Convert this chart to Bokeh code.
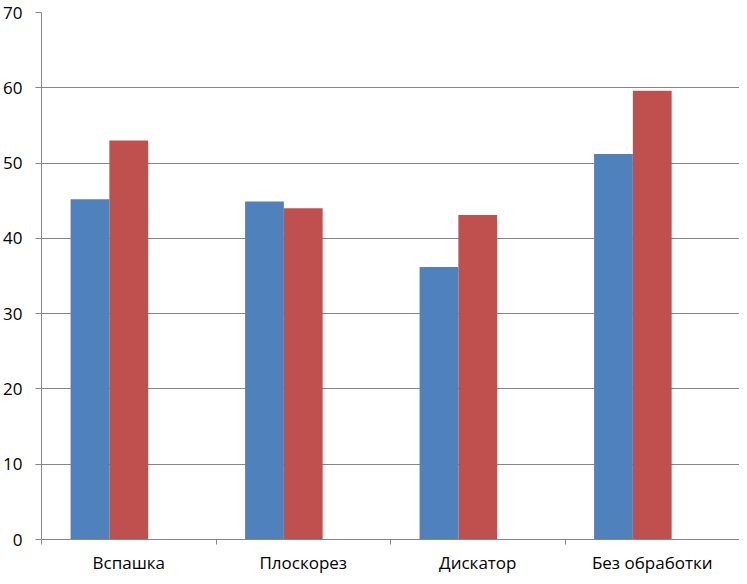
from bokeh.plotting import figure
from bokeh.models import ColumnDataSource, Range1d, FixedTicker
from bokeh.embed import file_html
from bokeh.resources import INLINE

categories = ["Вспашка", "Плоскорез", "Дискатор", "Без обработки"]
series1 = [45.2, 44.9, 36.2, 51.2]
series2 = [53.0, 44.0, 43.1, 59.6]
y_ticks = [0, 10, 20, 30, 40, 50, 60, 70]

colors = ["#4F81BD", "#C0504D"]
n_slots = 3          # Excel group has three slots (third series empty)
gap = 1.5            # Excel gap width 150%
bw = 1.0 / (n_slots + gap)

FONT = "Open Sans"
GRAY = "#868686"

p = figure(width=739, height=576, output_backend="svg", toolbar_location=None,
           x_range=Range1d(0, len(categories)), y_range=Range1d(0, 70),
           min_border_left=40, min_border_right=0, min_border_top=12,
           min_border_bottom=31)
p.outline_line_color = None
p.background_fill_color = "white"
p.border_fill_color = "white"

centers = [i + 0.5 for i in range(len(categories))]
for k, (vals, col) in enumerate(zip([series1, series2], colors)):
    xs = [c + (k - (n_slots - 1) / 2) * bw for c in centers]
    src = ColumnDataSource(dict(x=xs, top=vals))
    p.vbar(x="x", top="top", bottom=0, width=bw, source=src,
           fill_color=col, line_color=None)

# y axis
p.yaxis.ticker = FixedTicker(ticks=y_ticks)
p.yaxis.axis_line_color = GRAY
p.yaxis.major_tick_line_color = GRAY
p.yaxis.major_tick_in = 0
p.yaxis.major_tick_out = 6
p.yaxis.minor_tick_line_color = None
p.yaxis.major_label_standoff = 13
p.yaxis.major_label_text_font = FONT
p.yaxis.major_label_text_font_size = "17px"
p.yaxis.major_label_text_color = "black"

p.ygrid.ticker = FixedTicker(ticks=y_ticks)
p.ygrid.grid_line_color = GRAY
p.ygrid.grid_line_width = 1
p.xgrid.grid_line_color = None

# x axis: labels at category centres, ticks at boundaries
p.xaxis.ticker = FixedTicker(ticks=centers,
                             minor_ticks=list(range(len(categories) + 1)))
p.xaxis.major_label_overrides = {c: name for c, name in zip(centers, categories)}
p.xaxis.axis_line_color = GRAY
p.xaxis.major_tick_line_color = None
p.xaxis.major_tick_in = 0
p.xaxis.major_tick_out = 0
p.xaxis.minor_tick_line_color = GRAY
p.xaxis.minor_tick_in = 0
p.xaxis.minor_tick_out = 5
p.xaxis.major_label_standoff = 6
p.xaxis.major_label_text_font = FONT
p.xaxis.major_label_text_font_size = "17px"
p.xaxis.major_label_text_color = "black"

open("out.html", "w").write(file_html(p, INLINE))
